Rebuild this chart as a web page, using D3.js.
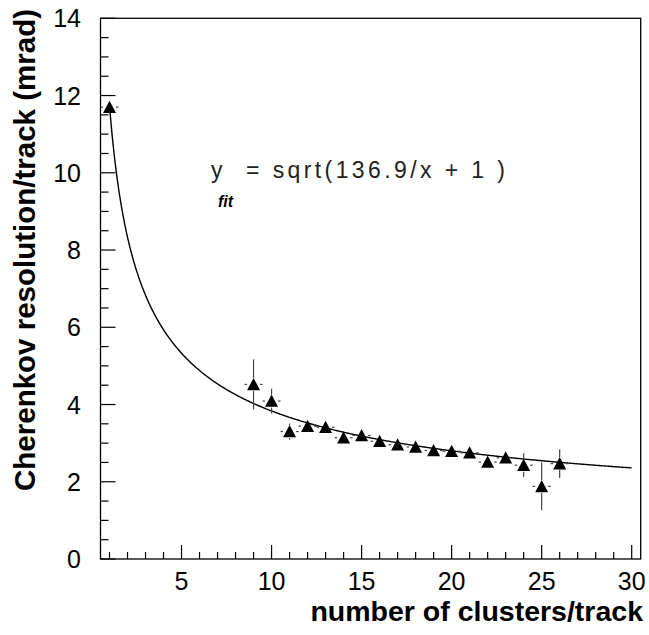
<!DOCTYPE html>
<html><head><meta charset="utf-8">
<script src="https://cdn.jsdelivr.net/npm/d3@7"></script>
<style>
html,body{margin:0;padding:0;background:#fff;}
svg{display:block;font-family:"Liberation Sans",Arial,Helvetica,sans-serif;}
</style></head>
<body><svg id="c" width="649" height="635"></svg>
<script>
// Data
const clusters = [1, 9, 10, 11, 12, 13, 14, 15, 16, 17, 18, 19, 20, 21, 22, 23, 24, 25, 26];
const resolution = [11.70, 4.52, 4.09, 3.30, 3.44, 3.41, 3.14, 3.20, 3.05, 2.96, 2.90, 2.81, 2.79, 2.75, 2.51, 2.62, 2.43, 1.88, 2.47];
const resolutionErr = [0.10, 0.65, 0.32, 0.21, 0.12, 0.10, 0.10, 0.10, 0.10, 0.10, 0.10, 0.10, 0.10, 0.10, 0.12, 0.12, 0.31, 0.62, 0.37];
const clusterHalfWidth = 0.5;
const fitParam = 136.9;
const xMajorTicks = [5, 10, 15, 20, 25, 30];
const yMajorTicks = [0, 2, 4, 6, 8, 10, 12, 14];
const xTitle = "number of clusters/track";
const yTitle = "Cherenkov resolution/track (mrad)";

const svg = d3.select("#c");
const L = 100.5, R = 640.7, T = 18.3, B = 559;
const x = d3.scaleLinear().domain([0.5, 30.5]).range([L, R]);
const y = d3.scaleLinear().domain([0, 14]).range([B, T]);

// frame
svg.append("rect").attr("x", L).attr("y", T).attr("width", R - L).attr("height", B - T)
  .attr("fill", "none").attr("stroke", "#000").attr("stroke-width", 1.3);

// x ticks
const xMinor = d3.range(1, 31);
svg.append("g").selectAll("line").data(xMinor).join("line")
  .attr("x1", d => x(d)).attr("x2", d => x(d))
  .attr("y1", B).attr("y2", d => B - (d % 5 === 0 ? 14 : 7))
  .attr("stroke", "#000").attr("stroke-width", 1.2);
svg.append("g").selectAll("text").data(xMajorTicks).join("text")
  .attr("x", d => x(d)).attr("y", 590).attr("text-anchor", "middle")
  .attr("font-size", 25).text(d => d);

// y ticks
const yMinor = d3.range(0, 14.01, 0.5);
svg.append("g").selectAll("line").data(yMinor).join("line")
  .attr("x1", L).attr("x2", d => L + (Math.abs(d % 2) < 1e-6 ? 15 : 8))
  .attr("y1", d => y(d)).attr("y2", d => y(d))
  .attr("stroke", "#000").attr("stroke-width", 1.2);
svg.append("g").selectAll("text").data(yMajorTicks).join("text")
  .attr("x", 81).attr("y", d => y(d) + 9).attr("text-anchor", "end")
  .attr("font-size", 25).text(d => d);

// axis titles
svg.append("text").attr("x", 643).attr("y", 621).attr("text-anchor", "end")
  .attr("font-size", 28.5).attr("font-weight", "bold").text(xTitle);
svg.append("text").attr("transform", "translate(35,250) rotate(-90)")
  .attr("text-anchor", "middle").attr("font-size", 29.5).attr("font-weight", "bold").text(yTitle);

// fit curve
const fitX = d3.range(1, 30.001, 0.05);
svg.append("path").datum(fitX)
  .attr("d", d3.line().x(d => x(d)).y(d => y(Math.sqrt(fitParam / d + 1))))
  .attr("fill", "none").attr("stroke", "#000").attr("stroke-width", 1.4);

// error bars
const pts = clusters.map((c, i) => ({c, v: resolution[i], e: resolutionErr[i]}));
const gap = 6.5;
const eg = svg.append("g").attr("stroke", "#444").attr("stroke-width", 1.2);
pts.forEach(p => {
  const px = x(p.c), py = y(p.v);
  const top = y(p.v + p.e), bot = y(p.v - p.e);
  if (py - top > gap) eg.append("line").attr("x1", px).attr("x2", px).attr("y1", top).attr("y2", py - gap);
  if (bot - py > gap) eg.append("line").attr("x1", px).attr("x2", px).attr("y1", py + gap).attr("y2", bot);
  const xl = x(p.c - clusterHalfWidth), xr = x(p.c + clusterHalfWidth);
  eg.append("line").attr("x1", xl).attr("x2", px - gap).attr("y1", py).attr("y2", py);
  eg.append("line").attr("x1", px + gap).attr("x2", xr).attr("y1", py).attr("y2", py);
});

// markers
svg.append("g").selectAll("path").data(pts).join("path")
  .attr("transform", p => `translate(${x(p.c)},${y(p.v)})`)
  .attr("d", "M0,-6.5L6.5,5.8L-6.5,5.8Z").attr("fill", "#000");

// fit label
svg.append("text").attr("x", 211).attr("y", 178).attr("font-size", 23).attr("fill", "#222").text("y");
svg.append("text").attr("x", 218).attr("y", 206.5).attr("font-size", 16).attr("font-weight", "bold")
  .attr("font-style", "italic").text("fit");
svg.append("text").attr("x", 246).attr("y", 178).attr("font-size", 23).attr("fill", "#222")
  .attr("textLength", 259).attr("lengthAdjust", "spacing").text("= sqrt(" + fitParam + "/x + 1 )");
</script></body></html>
